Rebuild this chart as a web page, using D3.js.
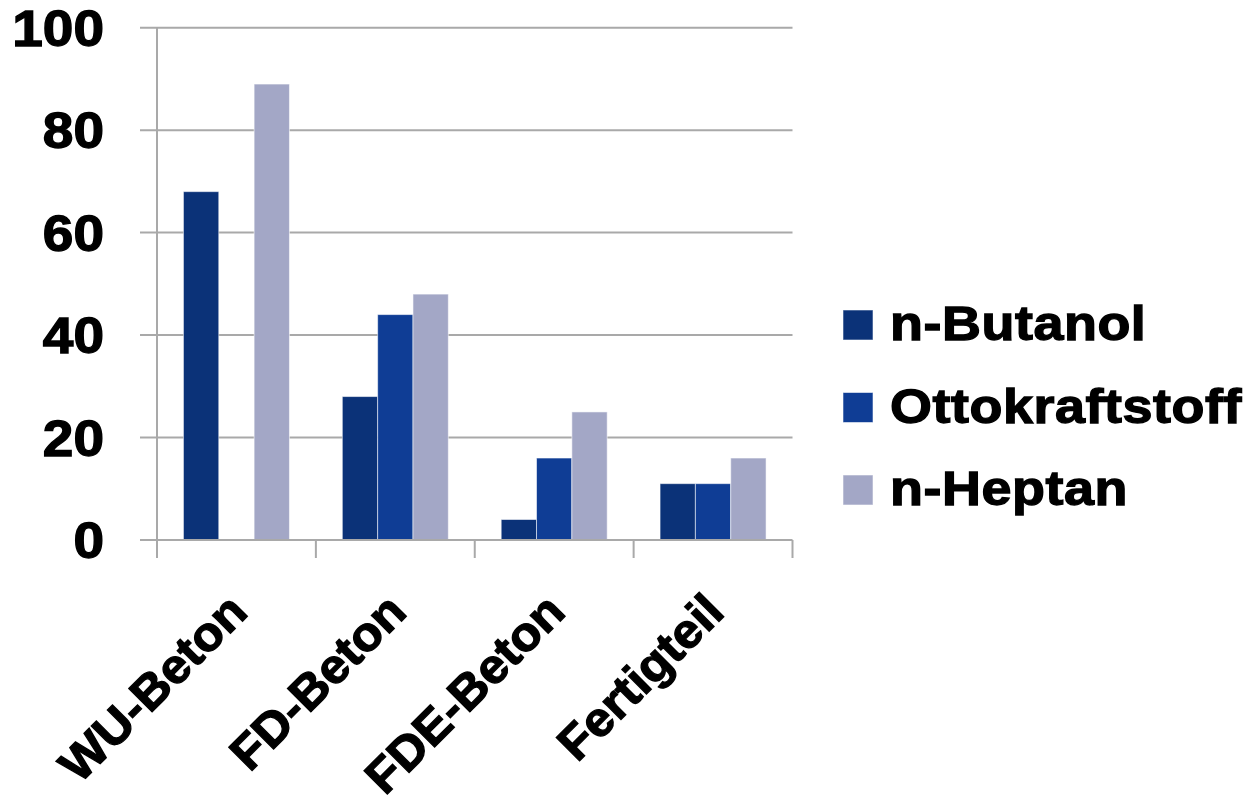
<!DOCTYPE html>
<html>
<head>
<meta charset="utf-8">
<script src="https://cdn.jsdelivr.net/npm/d3@7"></script>
<style>
  html, body { margin: 0; padding: 0; background: #ffffff; }
  svg { display: block; }
  text { font-family: "Liberation Sans", Arial, sans-serif; font-weight: bold; fill: #000; stroke: #000; stroke-width: 1.3px; }
</style>
</head>
<body>
<svg id="chart" width="1255" height="805"></svg>
<script>
// Categories and series
const categories = ["WU-Beton", "FD-Beton", "FDE-Beton", "Fertigteil"];
const seriesNames = ["n-Butanol", "Ottokraftstoff", "n-Heptan"];
const nButanol = [68, 28, 4, 11];
const ottokraftstoff = [0, 44, 16, 11];
const nHeptan = [89, 48, 25, 16];
const yTicks = [0, 20, 40, 60, 80, 100];
const colors = ["#0b3278", "#0f3d95", "#a3a7c6"];

const seriesValues = [nButanol, ottokraftstoff, nHeptan];

const svg = d3.select("#chart");
const plot = { left: 157, right: 792.5, top: 27.7, bottom: 540 };
const sx = 1.1; // horizontal stretch of the bold labels

const x = d3.scaleBand().domain(categories).range([plot.left, plot.right]).paddingInner(0).paddingOuter(0);
const inner = d3.scaleBand().domain(seriesNames).range([0, x.bandwidth()]).paddingInner(0).paddingOuter(0.748);
const y = d3.scaleLinear().domain([0, 100]).range([plot.bottom, plot.top]);

// Horizontal gridlines
svg.append("g").selectAll("line").data(yTicks.filter(d => d > 0)).join("line")
  .attr("x1", plot.left - 17).attr("x2", plot.right)
  .attr("y1", d => y(d)).attr("y2", d => y(d))
  .attr("stroke", "#a9a9a9").attr("stroke-width", 2);

// Bars
const groups = svg.append("g").selectAll("g").data(categories).join("g")
  .attr("transform", d => `translate(${x(d)},0)`);
groups.selectAll("rect")
  .data((c, ci) => seriesNames.map((s, si) => ({ s, si, v: seriesValues[si][ci] })))
  .join("rect")
  .filter(d => d.v > 0)
  .attr("x", d => inner(d.s))
  .attr("width", inner.bandwidth())
  .attr("y", d => y(d.v))
  .attr("height", d => y(0) - y(d.v))
  .attr("fill", d => colors[d.si])
  .attr("stroke", "rgba(255,255,255,0.55)")
  .attr("stroke-width", 1);

// Axis lines
svg.append("line")
  .attr("x1", plot.left).attr("x2", plot.left)
  .attr("y1", plot.top).attr("y2", plot.bottom + 18)
  .attr("stroke", "#a9a9a9").attr("stroke-width", 2);
svg.append("line")
  .attr("x1", plot.left - 17).attr("x2", plot.right)
  .attr("y1", plot.bottom).attr("y2", plot.bottom)
  .attr("stroke", "#a9a9a9").attr("stroke-width", 2);

// Category separators below the baseline
const sepX = categories.map(c => x(c)).concat([plot.right]);
svg.append("g").selectAll("line").data(sepX.slice(1)).join("line")
  .attr("x1", d => d).attr("x2", d => d)
  .attr("y1", plot.bottom).attr("y2", plot.bottom + 18)
  .attr("stroke", "#a9a9a9").attr("stroke-width", 2);

// Y tick labels
svg.append("g").selectAll("text").data(yTicks).join("text")
  .attr("transform", d => `translate(104,${y(d)}) scale(${sx},1)`)
  .attr("text-anchor", "end")
  .attr("dy", "0.36em")
  .style("font-size", "50px")
  .text(d => d);

// Rotated category labels
svg.append("g").selectAll("text").data(categories).join("text")
  .attr("transform", d => `translate(${x(d) + x.bandwidth() / 2 + 1},${plot.bottom + 62}) rotate(-45) scale(1.04,1)`)
  .attr("text-anchor", "end")
  .attr("dy", "0.36em")
  .style("font-size", "48px")
  .text(d => d);

// Legend
const legend = svg.append("g").selectAll("g").data(seriesNames).join("g")
  .attr("transform", (d, i) => `translate(843,${310 + i * 82.5})`);
legend.append("rect")
  .attr("width", 30).attr("height", 30)
  .attr("fill", (d, i) => colors[i])
  .attr("stroke", "rgba(255,255,255,0.55)").attr("stroke-width", 1);
legend.append("text")
  .attr("transform", `translate(47,30) scale(${sx},1)`)
  .style("font-size", "49px")
  .style("letter-spacing", "0.5px")
  .text(d => d);
</script>
</body>
</html>
